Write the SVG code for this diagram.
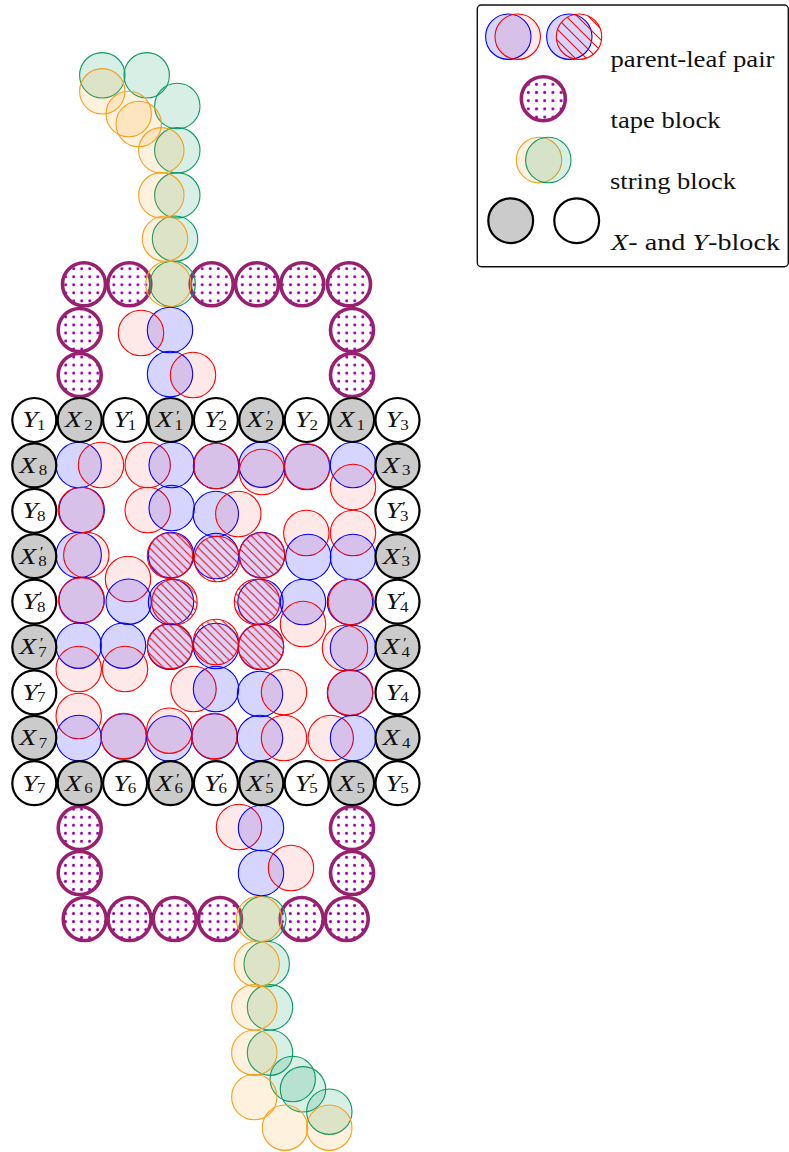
<svg xmlns="http://www.w3.org/2000/svg" width="789" height="1152" viewBox="0 0 789 1152">
<defs>
<pattern id="dots" patternUnits="userSpaceOnUse" x="69.7" y="264.7" width="8.03" height="8.03"><circle cx="4" cy="4" r="1.5" fill="#9900aa"/></pattern>
<pattern id="dots2" patternUnits="userSpaceOnUse" x="206" y="901.5" width="8.03" height="8.03"><circle cx="4" cy="4" r="1.5" fill="#9900aa"/></pattern>
<pattern id="dots3" patternUnits="userSpaceOnUse" x="524.2" y="80.2" width="8.2" height="8.2"><circle cx="4.1" cy="4.1" r="1.5" fill="#9900aa"/></pattern>
<pattern id="hatch" patternUnits="userSpaceOnUse" width="8.13" height="8.13"><path d="M-1 -1L9.13 9.13M-1 7.13L1 9.13M7.13 -1L9.13 1" stroke="#f00" stroke-width="1.1" fill="none"/></pattern>
<pattern id="hatch2" patternUnits="userSpaceOnUse" width="11" height="11"><path d="M-1 -1L12 12M-1 10L1 12M10 -1L12 1" stroke="#f00" stroke-width="1.1" fill="none"/></pattern>
</defs>
<style>
.b{fill:#00f;fill-opacity:.165;stroke:#00f;stroke-width:1.1}
.r{fill:#f00;fill-opacity:.09;stroke:#f00;stroke-width:1.1}
.h{fill:url(#hatch);stroke:#f00;stroke-width:1.1}
.o{fill:#f5a01e;fill-opacity:.15;stroke:#f5a01e;stroke-width:1.1}
.g{fill:#0a9a64;fill-opacity:.16;stroke:#0a9a64;stroke-width:1.1}
.t{fill:url(#dots);stroke:#98206f;stroke-width:3.6}
.u{fill:url(#dots2);stroke:#98206f;stroke-width:3.6}
.x{fill:#cbcbcb;stroke:#000;stroke-width:2.2}
.y{fill:#fff;stroke:#000;stroke-width:2.2}
text{font-family:"Liberation Serif","Times New Roman",serif;fill:#111}
.m{font-size:24px;font-style:italic;transform:scale(1.17,1)}
.s{font-size:14.5px;font-style:normal}
.p{font-size:15px;font-style:normal}
.l{font-size:24px}
.i{font-style:italic}
</style>
<g id="tape">
<circle class="t" cx="84" cy="284.3" r="21.5"/><circle class="t" cx="129.3" cy="284.3" r="21.5"/><circle class="t" cx="211.7" cy="284.3" r="21.5"/><circle class="t" cx="257" cy="284.3" r="21.5"/><circle class="t" cx="302.3" cy="284.3" r="21.5"/><circle class="t" cx="349" cy="284.3" r="21.5"/>
<circle class="t" cx="79.7" cy="330" r="21.5"/><circle class="t" cx="79.7" cy="375" r="21.5"/><circle class="t" cx="352" cy="330" r="21.5"/><circle class="t" cx="352" cy="375" r="21.5"/>
<circle class="u" cx="79.7" cy="828" r="21.5"/><circle class="u" cx="79.7" cy="873" r="21.5"/><circle class="u" cx="352" cy="828" r="21.5"/><circle class="u" cx="352" cy="873" r="21.5"/>
<circle class="u" cx="84.7" cy="919" r="21.5"/><circle class="u" cx="129.5" cy="919" r="21.5"/><circle class="u" cx="174.7" cy="919" r="21.5"/><circle class="u" cx="220" cy="919" r="21.5"/><circle class="u" cx="301.7" cy="919" r="21.5"/><circle class="u" cx="346.7" cy="919" r="21.5"/>
</g>
<g id="string-top">
<circle class="g" cx="102.3" cy="75.3" r="22.7"/><circle class="g" cx="146.7" cy="75.3" r="22.7"/><circle class="g" cx="177.3" cy="106" r="22.7"/><circle class="g" cx="177.3" cy="150.3" r="22.7"/><circle class="g" cx="177.3" cy="195.3" r="22.7"/><circle class="g" cx="175" cy="238.7" r="22.7"/><circle class="g" cx="172.7" cy="284" r="22.7"/>
<circle class="o" cx="102.3" cy="91.3" r="22.7"/><circle class="o" cx="128.7" cy="114" r="22.7"/><circle class="o" cx="138.7" cy="124" r="22.7"/><circle class="o" cx="161.3" cy="150.3" r="22.7"/><circle class="o" cx="161.3" cy="195.3" r="22.7"/><circle class="o" cx="165" cy="238.7" r="22.7"/><circle class="o" cx="168.3" cy="284" r="22.7"/>
</g>
<g id="string-bottom">
<circle class="g" cx="263.3" cy="919" r="22.7"/><circle class="g" cx="266.7" cy="964" r="22.7"/><circle class="g" cx="270" cy="1007.3" r="22.7"/><circle class="g" cx="270" cy="1052.7" r="22.7"/><circle class="g" cx="292.7" cy="1079" r="22.7"/><circle class="g" cx="303" cy="1089.3" r="22.7"/><circle class="g" cx="329.3" cy="1111.7" r="22.7"/>
<circle class="o" cx="259" cy="919" r="22.7"/><circle class="o" cx="256.7" cy="964" r="22.7"/><circle class="o" cx="254.3" cy="1007.3" r="22.7"/><circle class="o" cx="254.3" cy="1052.7" r="22.7"/><circle class="o" cx="254.3" cy="1097" r="22.7"/><circle class="o" cx="285" cy="1127.7" r="22.7"/><circle class="o" cx="329.3" cy="1127.7" r="22.7"/>
</g>
<g id="pairs">
<circle class="b" cx="170" cy="330" r="22.7"/><circle class="r" cx="141" cy="333" r="22.7"/>
<circle class="b" cx="170" cy="374" r="22.7"/><circle class="r" cx="193" cy="375" r="22.7"/>
<circle class="r" cx="239" cy="827" r="22.7"/><circle class="b" cx="261" cy="828" r="22.7"/>
<circle class="b" cx="261" cy="873" r="22.7"/><circle class="r" cx="291" cy="868" r="22.7"/>
<circle class="b" cx="78.7" cy="465" r="22.7"/><circle class="r" cx="101" cy="465" r="22.7"/>
<circle class="r" cx="147.7" cy="465" r="22.7"/><circle class="b" cx="171.7" cy="465" r="22.7"/>
<circle class="b" cx="216" cy="466" r="22.7"/><circle class="r" cx="216.5" cy="466" r="22.7"/>
<circle class="b" cx="261.7" cy="464.7" r="22.7"/><circle class="r" cx="262" cy="472" r="22.7"/>
<circle class="b" cx="307" cy="467" r="22.7"/><circle class="r" cx="307.3" cy="466.5" r="22.7"/>
<circle class="b" cx="353" cy="465" r="22.7"/><circle class="r" cx="353" cy="487" r="22.7"/>
<circle class="b" cx="81.7" cy="510" r="22.7"/><circle class="r" cx="81" cy="510" r="22.7"/>
<circle class="r" cx="147.7" cy="510" r="22.7"/><circle class="b" cx="171.7" cy="508" r="22.7"/>
<circle class="b" cx="215.8" cy="514" r="22.7"/><circle class="r" cx="238.3" cy="514" r="22.7"/>
<circle class="b" cx="78.7" cy="555" r="22.7"/><circle class="r" cx="86.3" cy="555" r="22.7"/>
<circle class="b" cx="171" cy="555" r="22.7"/><circle class="h" cx="170" cy="555.7" r="22.7"/>
<circle class="b" cx="216" cy="556" r="22.7"/><circle class="h" cx="217" cy="559" r="22.7"/>
<circle class="b" cx="262" cy="555" r="22.7"/><circle class="h" cx="262" cy="555.5" r="22.7"/>
<circle class="r" cx="306.3" cy="533" r="22.7"/><circle class="b" cx="308.3" cy="557" r="22.7"/>
<circle class="r" cx="353" cy="533" r="22.7"/><circle class="b" cx="353" cy="557" r="22.7"/>
<circle class="b" cx="81.7" cy="600" r="22.7"/><circle class="r" cx="81.3" cy="600.5" r="22.7"/>
<circle class="r" cx="128" cy="579" r="22.7"/><circle class="b" cx="128.7" cy="601.7" r="22.7"/>
<circle class="b" cx="171" cy="602" r="22.7"/><circle class="h" cx="174.5" cy="602" r="22.7"/>
<circle class="b" cx="260.5" cy="602" r="22.7"/><circle class="h" cx="257" cy="602" r="22.7"/>
<circle class="b" cx="303" cy="602" r="22.7"/><circle class="r" cx="303" cy="624" r="22.7"/>
<circle class="b" cx="350" cy="602" r="22.7"/><circle class="r" cx="351" cy="602" r="22.7"/>
<circle class="b" cx="78.7" cy="645.7" r="22.7"/><circle class="r" cx="78.7" cy="669" r="22.7"/>
<circle class="b" cx="123" cy="645.7" r="22.7"/><circle class="r" cx="125" cy="669" r="22.7"/>
<circle class="b" cx="170" cy="646.7" r="22.7"/><circle class="h" cx="170" cy="646" r="22.7"/>
<circle class="b" cx="216" cy="646" r="22.7"/><circle class="h" cx="216" cy="642" r="22.7"/>
<circle class="b" cx="261" cy="647" r="22.7"/><circle class="h" cx="261" cy="646.5" r="22.7"/>
<circle class="b" cx="353" cy="648" r="22.7"/><circle class="r" cx="345" cy="648" r="22.7"/>
<circle class="r" cx="193.5" cy="689" r="22.7"/><circle class="b" cx="216" cy="689" r="22.7"/>
<circle class="b" cx="260" cy="694" r="22.7"/><circle class="r" cx="284" cy="692" r="22.7"/>
<circle class="b" cx="350" cy="693" r="22.7"/><circle class="r" cx="350.3" cy="692.7" r="22.7"/>
<circle class="r" cx="78.7" cy="716" r="22.7"/><circle class="b" cx="78.7" cy="738" r="22.7"/>
<circle class="b" cx="123.7" cy="736.5" r="22.7"/><circle class="r" cx="123.7" cy="736" r="22.7"/>
<circle class="b" cx="169.5" cy="738.5" r="22.7"/><circle class="r" cx="169.3" cy="730.7" r="22.7"/>
<circle class="b" cx="214.5" cy="736.5" r="22.7"/><circle class="r" cx="214.5" cy="736" r="22.7"/>
<circle class="b" cx="260" cy="738" r="22.7"/><circle class="r" cx="284" cy="738" r="22.7"/>
<circle class="r" cx="330.7" cy="738" r="22.7"/><circle class="b" cx="353" cy="738" r="22.7"/>
</g>
<g id="Y1" transform="translate(34.3 420)"><circle class="y" r="22"/><text class="m" x="-10.2" y="7.3">Y<tspan class="s" dx="-.8" dy="2.7">1</tspan></text></g>
<g id="X2" transform="translate(79.7 420)"><circle class="x" r="22"/><text class="m" x="-12.8" y="7.3">X<tspan class="s" dx="2" dy="2.7">2</tspan></text></g>
<g id="Y1p" transform="translate(125.1 420)"><circle class="y" r="22"/><text class="m" x="-10.2" y="7.3">Y<tspan class="p" dx=".75" dy="-6.5">′</tspan><tspan class="s" dx="-4.95" dy="9.2">1</tspan></text></g>
<g id="X1p" transform="translate(170.5 420)"><circle class="x" r="22"/><text class="m" x="-12.8" y="7.3">X<tspan class="p" dx="2.85" dy="-6.5">′</tspan><tspan class="s" dx="-4.6" dy="9.2">1</tspan></text></g>
<g id="Y2p" transform="translate(215.9 420)"><circle class="y" r="22"/><text class="m" x="-10.2" y="7.3">Y<tspan class="p" dx=".75" dy="-6.5">′</tspan><tspan class="s" dx="-4.95" dy="9.2">2</tspan></text></g>
<g id="X2p" transform="translate(261.3 420)"><circle class="x" r="22"/><text class="m" x="-12.8" y="7.3">X<tspan class="p" dx="2.85" dy="-6.5">′</tspan><tspan class="s" dx="-4.6" dy="9.2">2</tspan></text></g>
<g id="Y2" transform="translate(306.7 420)"><circle class="y" r="22"/><text class="m" x="-10.2" y="7.3">Y<tspan class="s" dx="-.8" dy="2.7">2</tspan></text></g>
<g id="X1" transform="translate(352.1 420)"><circle class="x" r="22"/><text class="m" x="-12.8" y="7.3">X<tspan class="s" dx="2" dy="2.7">1</tspan></text></g>
<g id="Y3" transform="translate(397.5 420)"><circle class="y" r="22"/><text class="m" x="-10.2" y="7.3">Y<tspan class="s" dx="-.8" dy="2.7">3</tspan></text></g>
<g id="X8" transform="translate(34.3 465.4)"><circle class="x" r="22"/><text class="m" x="-12.8" y="7.3">X<tspan class="s" dx="2" dy="2.7">8</tspan></text></g>
<g id="Y8" transform="translate(34.3 510.8)"><circle class="y" r="22"/><text class="m" x="-10.2" y="7.3">Y<tspan class="s" dx="-.8" dy="2.7">8</tspan></text></g>
<g id="X8p" transform="translate(34.3 556.2)"><circle class="x" r="22"/><text class="m" x="-12.8" y="7.3">X<tspan class="p" dx="2.85" dy="-6.5">′</tspan><tspan class="s" dx="-4.6" dy="9.2">8</tspan></text></g>
<g id="Y8p" transform="translate(34.3 601.6)"><circle class="y" r="22"/><text class="m" x="-10.2" y="7.3">Y<tspan class="p" dx=".75" dy="-6.5">′</tspan><tspan class="s" dx="-4.95" dy="9.2">8</tspan></text></g>
<g id="X7p" transform="translate(34.3 647)"><circle class="x" r="22"/><text class="m" x="-12.8" y="7.3">X<tspan class="p" dx="2.85" dy="-6.5">′</tspan><tspan class="s" dx="-4.6" dy="9.2">7</tspan></text></g>
<g id="Y7p" transform="translate(34.3 692.4)"><circle class="y" r="22"/><text class="m" x="-10.2" y="7.3">Y<tspan class="p" dx=".75" dy="-6.5">′</tspan><tspan class="s" dx="-4.95" dy="9.2">7</tspan></text></g>
<g id="X7" transform="translate(34.3 737.8)"><circle class="x" r="22"/><text class="m" x="-12.8" y="7.3">X<tspan class="s" dx="2" dy="2.7">7</tspan></text></g>
<g id="X3" transform="translate(397.5 465.4)"><circle class="x" r="22"/><text class="m" x="-12.8" y="7.3">X<tspan class="s" dx="2" dy="2.7">3</tspan></text></g>
<g id="Y3p" transform="translate(397.5 510.8)"><circle class="y" r="22"/><text class="m" x="-10.2" y="7.3">Y<tspan class="p" dx=".75" dy="-6.5">′</tspan><tspan class="s" dx="-4.95" dy="9.2">3</tspan></text></g>
<g id="X3p" transform="translate(397.5 556.2)"><circle class="x" r="22"/><text class="m" x="-12.8" y="7.3">X<tspan class="p" dx="2.85" dy="-6.5">′</tspan><tspan class="s" dx="-4.6" dy="9.2">3</tspan></text></g>
<g id="Y4p" transform="translate(397.5 601.6)"><circle class="y" r="22"/><text class="m" x="-10.2" y="7.3">Y<tspan class="p" dx=".75" dy="-6.5">′</tspan><tspan class="s" dx="-4.95" dy="9.2">4</tspan></text></g>
<g id="X4p" transform="translate(397.5 647)"><circle class="x" r="22"/><text class="m" x="-12.8" y="7.3">X<tspan class="p" dx="2.85" dy="-6.5">′</tspan><tspan class="s" dx="-4.6" dy="9.2">4</tspan></text></g>
<g id="Y4" transform="translate(397.5 692.4)"><circle class="y" r="22"/><text class="m" x="-10.2" y="7.3">Y<tspan class="s" dx="-.8" dy="2.7">4</tspan></text></g>
<g id="X4" transform="translate(397.5 737.8)"><circle class="x" r="22"/><text class="m" x="-12.8" y="7.3">X<tspan class="s" dx="2" dy="2.7">4</tspan></text></g>
<g id="Y7" transform="translate(34.3 783.2)"><circle class="y" r="22"/><text class="m" x="-10.2" y="7.3">Y<tspan class="s" dx="-.8" dy="2.7">7</tspan></text></g>
<g id="X6" transform="translate(79.7 783.2)"><circle class="x" r="22"/><text class="m" x="-12.8" y="7.3">X<tspan class="s" dx="2" dy="2.7">6</tspan></text></g>
<g id="Y6" transform="translate(125.1 783.2)"><circle class="y" r="22"/><text class="m" x="-10.2" y="7.3">Y<tspan class="s" dx="-.8" dy="2.7">6</tspan></text></g>
<g id="X6p" transform="translate(170.5 783.2)"><circle class="x" r="22"/><text class="m" x="-12.8" y="7.3">X<tspan class="p" dx="2.85" dy="-6.5">′</tspan><tspan class="s" dx="-4.6" dy="9.2">6</tspan></text></g>
<g id="Y6p" transform="translate(215.9 783.2)"><circle class="y" r="22"/><text class="m" x="-10.2" y="7.3">Y<tspan class="p" dx=".75" dy="-6.5">′</tspan><tspan class="s" dx="-4.95" dy="9.2">6</tspan></text></g>
<g id="X5p" transform="translate(261.3 783.2)"><circle class="x" r="22"/><text class="m" x="-12.8" y="7.3">X<tspan class="p" dx="2.85" dy="-6.5">′</tspan><tspan class="s" dx="-4.6" dy="9.2">5</tspan></text></g>
<g id="Y5p" transform="translate(306.7 783.2)"><circle class="y" r="22"/><text class="m" x="-10.2" y="7.3">Y<tspan class="p" dx=".75" dy="-6.5">′</tspan><tspan class="s" dx="-4.95" dy="9.2">5</tspan></text></g>
<g id="X5" transform="translate(352.1 783.2)"><circle class="x" r="22"/><text class="m" x="-12.8" y="7.3">X<tspan class="s" dx="2" dy="2.7">5</tspan></text></g>
<g id="Y5" transform="translate(397.5 783.2)"><circle class="y" r="22"/><text class="m" x="-10.2" y="7.3">Y<tspan class="s" dx="-.8" dy="2.7">5</tspan></text></g>
<g id="legend">
<rect x="477.3" y="5" width="311" height="261.7" rx="4" fill="#fff" stroke="#111" stroke-width="1.4"/>
<circle class="b" cx="508.3" cy="36.7" r="22.7"/><circle class="r" cx="517.7" cy="36.7" r="22.7"/>
<circle class="b" cx="569.3" cy="36.7" r="22.7"/><circle cx="579" cy="36.7" r="22.7" fill="url(#hatch2)" stroke="#f00" stroke-width="1.1"/>
<circle cx="543.3" cy="98.7" r="22" fill="url(#dots3)" stroke="#98206f" stroke-width="3.6"/>
<circle class="o" cx="539" cy="160" r="22.7"/><circle class="g" cx="548.3" cy="160" r="22.7"/>
<circle class="x" cx="510.7" cy="220.7" r="22.4"/><circle class="y" cx="576.7" cy="220.7" r="22.4"/>
<text class="l" x="610.5" y="66.5" textLength="164" lengthAdjust="spacingAndGlyphs">parent-leaf pair</text>
<text class="l" x="610.5" y="128" textLength="110" lengthAdjust="spacingAndGlyphs">tape block</text>
<text class="l" x="610" y="189" textLength="126" lengthAdjust="spacingAndGlyphs">string block</text>
<text class="l" x="611" y="250" textLength="169" lengthAdjust="spacingAndGlyphs"><tspan class="i">X</tspan>- and <tspan class="i">Y</tspan>-block</text>
</g>
</svg>
